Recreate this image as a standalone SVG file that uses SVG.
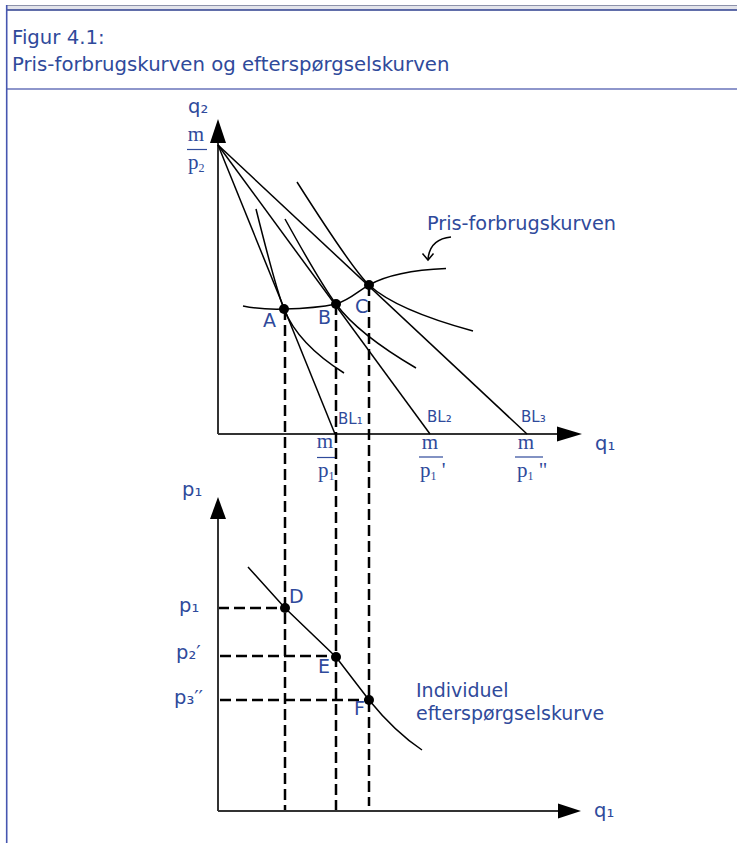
<svg xmlns="http://www.w3.org/2000/svg" width="737" height="843" viewBox="0 0 737 843">
<style>
.t{font-family:"DejaVu Sans",Verdana,"Liberation Sans",sans-serif;fill:#2f4a9b;}
.s{font-family:"Liberation Serif","Times New Roman",serif;fill:#2f4a9b;font-size:21px;}
.ax{stroke:#333;stroke-width:2;fill:none}
.ln{stroke:#000;stroke-width:1.5;fill:none}
.ds{stroke:#000;stroke-width:2.5;stroke-dasharray:11 5;fill:none}
.fr{stroke:#2f4a9b;stroke-width:1.2}
.dot{fill:#000}
.ah{fill:#000}
</style>
<rect width="737" height="843" fill="#fff"/>
<g id="frame">
  <rect x="6" y="5" width="731" height="5" fill="#e2e3ea"/>
  <line x1="6" y1="5.5" x2="737" y2="5.5" stroke="#8d92aa" stroke-width="1"/>
  <line x1="6" y1="10" x2="737" y2="10" stroke="#2c3e8e" stroke-width="1.6"/>
  <rect x="7" y="88" width="730" height="2" fill="#8e96cb"/>
  <line x1="6.7" y1="5" x2="6.7" y2="843" stroke="#4656b0" stroke-width="1.6"/>
  <text class="t" x="12" y="44" font-size="19.7">Figur 4.1:</text>
  <text class="t" x="12" y="71" font-size="19.7">Pris-forbrugskurven og efterspørgselskurven</text>
</g>
<g id="top-axes">
  <line class="ax" x1="218" y1="140" x2="218" y2="434"/>
  <line class="ax" x1="218" y1="434" x2="560" y2="434"/>
  <polygon class="ah" points="218,119 210,143 226,143"/>
  <polygon class="ah" points="582,434 557,426.5 557,441.5"/>
  <text class="t" x="188" y="113" font-size="19.5">q₂</text>
  <text class="t" x="595" y="450" font-size="19.5">q₁</text>
</g>
<g id="fractions">
  <text class="s" x="196" y="141" text-anchor="middle">m</text>
  <line class="fr" x1="187" y1="149.5" x2="207" y2="149.5"/>
  <text class="s" x="188" y="169">p<tspan font-size="12" dy="3">2</tspan></text>
  <text class="s" x="325" y="448" text-anchor="middle">m</text>
  <line class="fr" x1="317" y1="457.5" x2="337" y2="457.5"/>
  <text class="s" x="318" y="477">p<tspan font-size="12" dy="3">1</tspan></text>
  <text class="s" x="430" y="449" text-anchor="middle">m</text>
  <line class="fr" x1="419" y1="457" x2="443" y2="457"/>
  <text class="s" x="420" y="477">p<tspan font-size="12" dy="3">1</tspan><tspan dy="-3"> '</tspan></text>
  <text class="s" x="526" y="449" text-anchor="middle">m</text>
  <line class="fr" x1="515" y1="457" x2="543" y2="457"/>
  <text class="s" x="517" y="477">p<tspan font-size="12" dy="3">1</tspan><tspan dy="-3"> "</tspan></text>
</g>
<g id="budget-lines">
  <line class="ln" x1="218" y1="145" x2="335" y2="434"/>
  <line class="ln" x1="218" y1="145" x2="430" y2="434"/>
  <line class="ln" x1="218" y1="145" x2="527" y2="434"/>
  <text class="t" x="338" y="424" font-size="15">BL₁</text>
  <text class="t" x="427" y="422" font-size="15">BL₂</text>
  <text class="t" x="521" y="422" font-size="15">BL₃</text>
</g>
<g id="indifference-curves">
  <path class="ln" d="M256,209 Q276,289 284,309 Q298,344 344,373"/>
  <path class="ln" d="M285,219 Q321,284 336,304 Q358,334 416,368"/>
  <path class="ln" d="M297,182 Q353,270 369,285 Q396,310 473,331"/>
</g>
<g id="price-consumption-curve">
  <path class="ln" d="M243,306 C258,309 270,309.5 284,309 C305,308.5 322,307 336,304 C350,300 358,291 369,285 C385,276 410,270 446,268.5"/>
  <text class="t" x="427" y="230" font-size="19.3">Pris-forbrugskurven</text>
  <path class="ln" d="M451,237 Q430,239 428,259"/>
  <path class="ln" d="M422.5,253.5 L428,260 L433.5,253.5"/>
</g>
<g id="points-top">
  <circle class="dot" cx="284" cy="309" r="5"/>
  <circle class="dot" cx="336" cy="304" r="5"/>
  <circle class="dot" cx="369" cy="285" r="5"/>
  <text class="t" x="263" y="327" font-size="19">A</text>
  <text class="t" x="318" y="324" font-size="19">B</text>
  <text class="t" x="355" y="313" font-size="19">C</text>
</g>
<g id="connectors">
  <line class="ds" x1="285" y1="309" x2="285" y2="811"/>
  <line class="ds" x1="336" y1="304" x2="336" y2="811"/>
  <line class="ds" x1="369" y1="285" x2="369" y2="806"/>
  <line class="ds" x1="218" y1="608" x2="285" y2="608"/>
  <line class="ds" x1="220" y1="656" x2="336" y2="656"/>
  <line class="ds" x1="220" y1="700" x2="369" y2="700"/>
</g>
<g id="bottom-axes">
  <line class="ax" x1="218" y1="515" x2="218" y2="811"/>
  <line class="ax" x1="218" y1="811" x2="560" y2="811"/>
  <polygon class="ah" points="218,497 210,519 226,519"/>
  <polygon class="ah" points="581,811 558,803.5 558,818.5"/>
  <text class="t" x="182" y="496" font-size="19.5">p₁</text>
  <text class="t" x="594" y="817" font-size="19.5">q₁</text>
  <text class="t" x="179" y="612" font-size="19.5">p₁</text>
  <text class="t" x="176" y="659" font-size="19.5">p₂′</text>
  <text class="t" x="174" y="704" font-size="19.5">p₃′′</text>
</g>
<g id="demand-curve">
  <path class="ln" d="M248,567 L285,608 L336,657 L369,700 Q395,732 422,750"/>
  <circle class="dot" cx="285" cy="608" r="5"/>
  <circle class="dot" cx="336" cy="657" r="5"/>
  <circle class="dot" cx="369" cy="700" r="5"/>
  <text class="t" x="289" y="603" font-size="19">D</text>
  <text class="t" x="318" y="673" font-size="19">E</text>
  <text class="t" x="354" y="715" font-size="19">F</text>
  <text class="t" x="416" y="697" font-size="19">Individuel</text>
  <text class="t" x="416" y="720" font-size="19">efterspørgselskurve</text>
</g>
</svg>
